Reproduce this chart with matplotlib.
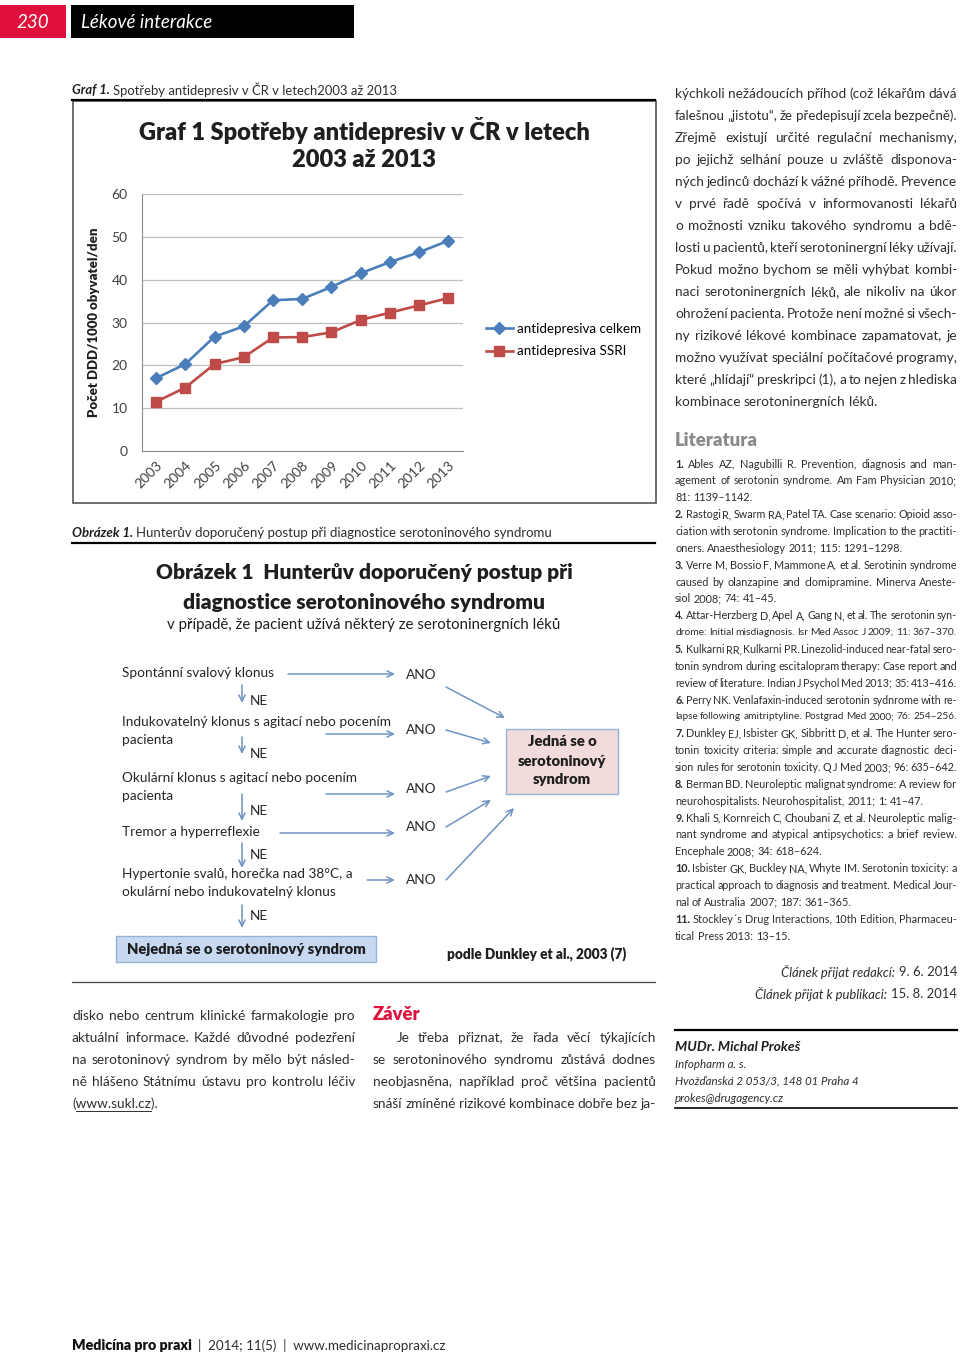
import matplotlib
matplotlib.use('Agg')
import matplotlib.pyplot as plt
from matplotlib.patches import Rectangle

# --- data graf 1 ---
roky = ['2003', '2004', '2005', '2006', '2007', '2008', '2009', '2010', '2011', '2012', '2013']
celkem = [17.0, 20.3, 26.7, 29.1, 35.2, 35.5, 38.3, 41.5, 44.1, 46.4, 49.1]
ssri = [11.5, 14.8, 20.3, 21.9, 26.5, 26.6, 27.7, 30.6, 32.3, 34.0, 35.7]
y_ticks = [0, 10, 20, 30, 40, 50, 60]
serie = ['antidepresiva celkem', 'antidepresiva SSRI']

# --- texty stranky ---
pravy_sloupec = [
    "kýchkoli nežádoucích příhod (což lékařům dává",
    "falešnou „jistotu“, že předepisují zcela bezpečně).",
    "Zřejmě existují určité regulační mechanismy,",
    "po jejichž selhání pouze u zvláště disponova-",
    "ných jedinců dochází k vážné příhodě. Prevence",
    "v prvé řadě spočívá v informovanosti lékařů",
    "o možnosti vzniku takového syndromu a bdě-",
    "losti u pacientů, kteří serotoninergní léky užívají.",
    "Pokud možno bychom se měli vyhýbat kombi-",
    "naci serotoninergních léků, ale nikoliv na úkor",
    "ohrožení pacienta. Protože není možné si všech-",
    "ny rizikové lékové kombinace zapamatovat, je",
    "možno využívat speciální počítačové programy,",
    "které „hlídají“ preskripci (1), a to nejen z hlediska",
    "kombinace serotoninergních léků.",
]
literatura = [
    ["1. Ables AZ, Nagubilli R. Prevention, diagnosis and man-",
     "agement of serotonin syndrome. Am Fam Physician 2010;",
     "81: 1139–1142."],
    ["2. Rastogi R, Swarm RA, Patel TA. Case scenario: Opioid asso-",
     "ciation with serotonin syndrome. Implication to the practiti-",
     "oners. Anaesthesiology 2011; 115: 1291–1298."],
    ["3. Verre M, Bossio F, Mammone A, et al. Serotinin syndrome",
     "caused by olanzapine and clomipramine. Minerva Aneste-",
     "siol 2008; 74: 41–45."],
    ["4. Attar-Herzberg D, Apel A, Gang N, et al. The serotonin syn-",
     "drome: Initial misdiagnosis. Isr Med Assoc J 2009; 11: 367–370."],
    ["5. Kulkarni RR, Kulkarni PR. Linezolid-induced near-fatal sero-",
     "tonin syndrom during escitalopram therapy: Case report and",
     "review of literature. Indian J Psychol Med 2013; 35: 413–416."],
    ["6. Perry NK. Venlafaxin-induced serotonin sydnrome with re-",
     "lapse following amitriptyline. Postgrad Med 2000; 76: 254–256."],
    ["7. Dunkley EJ, Isbister GK, Sibbritt D, et al. The Hunter sero-",
     "tonin toxicity criteria: simple and accurate diagnostic deci-",
     "sion rules for serotonin toxicity. Q J Med 2003; 96: 635–642."],
    ["8. Berman BD. Neuroleptic malignat syndrome: A review for",
     "neurohospitalists. Neurohospitalist, 2011; 1: 41–47."],
    ["9. Khali S, Kornreich C, Choubani Z, et al. Neuroleptic malig-",
     "nant syndrome and atypical antipsychotics: a brief review.",
     "Encephale 2008; 34: 618–624."],
    ["10. Isbister GK, Buckley NA, Whyte IM. Serotonin toxicity: a",
     "practical approach to diagnosis and treatment. Medical Jour-",
     "nal of Australia 2007; 187: 361–365."],
    ["11. Stockley´s Drug Interactions, 10th Edition, Pharmaceu-",
     "tical Press 2013: 13–15."],
]
levy_dole = [
    "disko nebo centrum klinické farmakologie pro",
    "aktuální informace. Každé důvodné podezření",
    "na serotoninový syndrom by mělo být násled-",
    "ně hlášeno Státnímu ústavu pro kontrolu léčiv",
]
zaver = [
    "Je třeba přiznat, že řada věcí týkajících",
    "se serotoninového syndromu zůstává dodnes",
    "neobjasněna, například proč většina pacientů",
    "snáší zmíněné rizikové kombinace dobře bez ja-",
]

BODY = 'Lato'
TXT = '#2e2e2e'
DARK = '#1f1f1f'
CRED = '#e0103c'
ARR = '#6f93c4'
HEAVY = 'heavy'

fig = plt.figure(figsize=(9.6, 13.56), dpi=100)
ax0 = fig.add_axes([0, 0, 1, 1])
ax0.set_xlim(0, 960)
ax0.set_ylim(1356, 0)
ax0.axis('off')
R = fig.canvas.get_renderer()


def width(t):
    return t.get_window_extent(renderer=R).width


def text_w(s, size, **kw):
    t = ax0.text(0, 0, s, fontsize=size, **kw)
    w = width(t)
    t.remove()
    return w


def put_line(x0, x1, y, text, size, justify=True, first_bold=False,
             color=TXT, style='normal', family=BODY):
    words = text.split()
    objs = [ax0.text(x0, y, w, fontsize=size, family=family, style=style, color=color,
                     weight='bold' if (first_bold and i == 0) else 'normal',
                     ha='left', va='center') for i, w in enumerate(words)]
    avail = x1 - x0
    for _ in range(6):
        widths = [width(t) for t in objs]
        need = sum(widths) + 0.16 * size * 100 / 72 * (len(words) - 1)
        if need <= avail + 0.5:
            break
        size *= avail / need
        for t in objs:
            t.set_fontsize(size)
    if justify is None:
        justify = need > 0.88 * avail
    if justify and len(words) > 1:
        gap = (avail - sum(widths)) / (len(words) - 1)
    else:
        gap = 0.24 * size * 100 / 72
    x = x0
    for t, w in zip(objs, widths):
        t.set_x(x)
        x += w + gap
    return objs


def two_part(x, y, a, b, size, kw_a, kw_b, gap=0.25, size_b=None):
    ta = ax0.text(x, y, a, fontsize=size, va='center', ha='left', family=BODY, **kw_a)
    wa = width(ta)
    ax0.text(x + wa + gap * size * 100 / 72, y, b, fontsize=size_b or size, va='center', ha='left',
             family=BODY, **kw_b)


# --- zahlavi ---
ax0.add_patch(Rectangle((0, 5), 66, 33, color=CRED, lw=0))
ax0.add_patch(Rectangle((71, 5), 283, 33, color='black', lw=0))
ax0.text(33, 22, '230', color='white', style='italic', fontsize=13.5, family=BODY, ha='center', va='center')
ax0.text(81, 22, 'Lékové interakce', color='white', style='italic', fontsize=13.5, family=BODY,
         ha='left', va='center')

# --- graf 1 ---
two_part(72, 90, 'Graf 1.', 'Spotřeby antidepresiv v ČR v letech2003 až 2013', 9.4,
         dict(weight='bold', style='italic', color=DARK), dict(color=TXT))
ax0.plot([72, 655], [100, 100], color='black', lw=1.6)
ax0.add_patch(Rectangle((72.5, 101), 583, 402, fill=False, edgecolor='#555555', lw=1.2))
ax0.text(364, 130, 'Graf 1 Spotřeby antidepresiv v ČR v letech', fontsize=17, weight=HEAVY,
         family=BODY, color=DARK, ha='center', va='center')
ax0.text(364, 160, '2003 až 2013', fontsize=17, weight=HEAVY, family=BODY, color=DARK,
         ha='center', va='center')

ax = fig.add_axes([141.5 / 960, 1 - 451 / 1356, 321.5 / 960, 257 / 1356])
ax.patch.set_alpha(0)
ax.plot(roky, celkem, color='#4a7ebb', lw=1.9, marker='D', ms=6.3, label=serie[0])
ax.plot(roky, ssri, color='#be4b48', lw=1.9, marker='s', ms=7.5, label=serie[1])
ax.set_xlim(-0.5, len(roky) - 0.5)
ax.set_ylim(0, 60)
ax.set_yticks(y_ticks)
ax.yaxis.grid(True, color='#bfbfbf', lw=0.9)
ax.set_axisbelow(True)
for s in ['top', 'right']:
    ax.spines[s].set_visible(False)
for s in ['left', 'bottom']:
    ax.spines[s].set_color('#8c8c8c')
ax.tick_params(length=0, labelsize=10, colors='#404040')
ax.tick_params(axis='y', pad=10)
ax.tick_params(axis='x', pad=6)
for lab in ax.get_xticklabels() + ax.get_yticklabels():
    lab.set_family(BODY)
plt.setp(ax.get_xticklabels(), rotation=45, ha='right', va='top', rotation_mode='anchor')
ax.set_ylabel('Počet DDD/1000 obyvatel/den', fontsize=9.5, weight=HEAVY, family=BODY, color=DARK)
ax.yaxis.set_label_coords(-0.128, 0.5)
ax.legend(loc='center left', bbox_to_anchor=(486 / 960, 1 - 340 / 1356), bbox_transform=fig.transFigure,
          frameon=False, handlelength=2.0, handletextpad=0.3, labelspacing=0.8, borderpad=0,
          borderaxespad=0, prop={'family': BODY, 'size': 9.6})

# --- obrazek 1 ---
two_part(72, 533, 'Obrázek 1.', 'Hunterův doporučený postup při diagnostice serotoninového syndromu', 9.5,
         dict(weight='bold', style='italic', color=DARK), dict(color=TXT))
ax0.plot([72, 655], [543, 543], color='black', lw=1.6)
ax0.text(364, 573, 'Obrázek 1  Hunterův doporučený postup při', fontsize=15, weight=HEAVY,
         family=BODY, color=DARK, ha='center', va='center')
ax0.text(364, 602, 'diagnostice serotoninového syndromu', fontsize=15, weight=HEAVY,
         family=BODY, color=DARK, ha='center', va='center')
ax0.text(364, 625, 'v případě, že pacient užívá některý ze serotoninergních léků', fontsize=10.8,
         family=BODY, color=DARK, ha='center', va='center')

kriteria = [("Spontánní svalový klonus", 673), ("Indukovatelný klonus s agitací nebo pocením", 722),
            ("pacienta", 740), ("Okulární klonus s agitací nebo pocením", 778), ("pacienta", 796),
            ("Tremor a hyperreflexie", 832), ("Hypertonie svalů, horečka nad 38°C, a", 874),
            ("okulární nebo indukovatelný klonus", 892)]
for s, y in kriteria:
    ax0.text(122, y, s, fontsize=9.8, family=BODY, color='#262626', ha='left', va='center')

ano_y = [675, 730, 789, 827, 880]
ne_y = [701, 754, 811, 855, 916]
vodorovne = [(288, 674), (326, 734), (326, 794), (280, 833), (367, 880)]
dolu = [(685, 703), (737, 754), (794, 821), (843, 868), (905, 928)]
sikme = [((446, 687), (505, 718)), ((446, 730), (491, 743)), ((446, 792), (491, 776)),
         ((446, 827), (491, 800)), ((446, 880), (514, 808))]
aprops = dict(arrowstyle='->,head_length=0.45,head_width=0.22', color=ARR, lw=1.1,
              shrinkA=0, shrinkB=0)
for y in ano_y:
    ax0.text(406, y, 'ANO', fontsize=9.8, family=BODY, color='#262626', ha='left', va='center')
for y in ne_y:
    ax0.text(250, y, 'NE', fontsize=9.8, family=BODY, color='#262626', ha='left', va='center')
for x0, y in vodorovne:
    ax0.annotate('', xy=(395, y), xytext=(x0, y), arrowprops=aprops)
for y0, y1 in dolu:
    ax0.annotate('', xy=(242, y1), xytext=(242, y0), arrowprops=aprops)
for a, b in sikme:
    ax0.annotate('', xy=b, xytext=a, arrowprops=aprops)

ax0.add_patch(Rectangle((116, 936), 260, 26, facecolor='#c6d9f1', edgecolor='#95b3d7', lw=1))
ax0.text(246, 949, 'Nejedná se o serotoninový syndrom', fontsize=10.6, weight=HEAVY, family=BODY,
         color=DARK, ha='center', va='center')
ax0.add_patch(Rectangle((506, 729), 112, 65, facecolor='#f2dcdb', edgecolor='#95b3d7', lw=1))
for s, y in [('Jedná se o', 741), ('serotoninový', 761), ('syndrom', 780)]:
    ax0.text(562, y, s, fontsize=10.6, weight=HEAVY, family=BODY, color=DARK,
             ha='center', va='center')
ax0.text(447, 954, 'podle Dunkley et al., 2003 (7)', fontsize=9.8, weight=HEAVY, family=BODY,
         color=DARK, ha='left', va='center')
ax0.plot([72, 655], [982, 982], color='#444444', lw=0.9)

# --- pravy sloupec ---
for i, s in enumerate(pravy_sloupec):
    put_line(675, 957, 94 + 22 * i, s, 9.8, justify=(i < len(pravy_sloupec) - 1))

ax0.text(675, 441, 'Literatura', fontsize=13.3, weight=HEAVY, family=BODY, color='#8a8a8a',
         ha='left', va='center')
radek = 0
for ref in literatura:
    for j, s in enumerate(ref):
        put_line(675, 957, 464 + 16.86 * radek, s, 7.8,
                 justify=(True if j < len(ref) - 1 else None), first_bold=(j == 0))
        radek += 1

for y, a, b in [(972, 'Článek přijat redakcí:', '9. 6. 2014'),
                (994, 'Článek přijat k publikaci:', '15. 8. 2014')]:
    tb = ax0.text(957, y, b, fontsize=9.4, family=BODY, color=TXT, ha='right', va='center')
    ax0.text(957 - width(tb) - 4, y, a, fontsize=9.4, family=BODY, style='italic', color=TXT,
             ha='right', va='center')

ax0.plot([675, 957], [1030, 1030], color='black', lw=1.6)
ax0.text(675, 1047, 'MUDr. Michal Prokeš', fontsize=10, weight='bold', style='italic', family=BODY,
         color=DARK, ha='left', va='center')
for s, y in [('Infopharm a. s.', 1064), ('Hvožďanská 2 053/3, 148 01 Praha 4', 1081),
             ('prokes@drugagency.cz', 1098)]:
    ax0.text(675, y, s, fontsize=8.3, style='italic', family=BODY, color=TXT, ha='left', va='center')
ax0.plot([675, 957], [1108, 1108], color='black', lw=1.2)

# --- dolni sloupce ---
for i, s in enumerate(levy_dole):
    put_line(72, 355, 1016 + 22 * i, s, 9.8)
ax0.text(72, 1104, '(www.sukl.cz).', fontsize=9.8, family=BODY, color=TXT, ha='left', va='center')
u0 = 72 + text_w('(', 9.8, family=BODY)
u1 = 72 + text_w('(www.sukl.cz', 9.8, family=BODY)
ax0.plot([u0, u1], [1111, 1111], color=TXT, lw=0.7)

ax0.text(373, 1015, 'Závěr', fontsize=13.2, weight=HEAVY, family=BODY, color=CRED, ha='left', va='center')
for i, s in enumerate(zaver):
    put_line(397 if i == 0 else 373, 656, 1038 + 22 * i, s, 9.8)

# --- paticka ---
two_part(72, 1346, 'Medicína pro praxi', '|  2014; 11(5)  |  www.medicinapropraxi.cz', 10.2,
         dict(weight=HEAVY, color='#111111'), dict(color=TXT), gap=0.4, size_b=9.6)

fig.savefig('out.png', dpi=100, facecolor='white')
